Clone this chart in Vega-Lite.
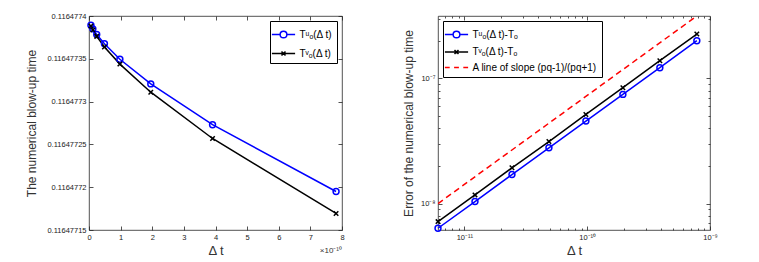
{
  "$schema": "https://vega.github.io/schema/vega-lite/v6.json",
  "autosize": {"type": "pad"},
  "padding": {"left": 25, "top": 11, "right": 5, "bottom": 5},
  "bounds": "flush",
  "spacing": 96,
  "resolve": {"scale": {"color": "independent", "shape": "independent"}, "legend": {"color": "independent", "shape": "independent"}},
  "config": {
    "font": "Liberation Sans",
    "view": {"stroke": "#262626", "strokeWidth": 0.8},
    "axis": {
      "domain": false, "grid": false, "tickSize": -4, "tickWidth": 0.8, "tickColor": "#262626",
      "labelFontSize": 7.5, "labelColor": "#1a1a1a", "labelPadding": 7, "labelFlush": false,
      "titleFontWeight": "normal", "titleColor": "#333", "titleFontSize": 12
    },
    "legend": {
      "title": null, "strokeColor": "#000", "fillColor": "#fff", "padding": 4.5, "cornerRadius": 0,
      "labelFontSize": 10, "labelColor": "#000", "symbolStrokeWidth": 1.5, "symbolSize": 256, "rowPadding": 3, "labelOffset": 7
    }
  },
  "datasets": {
    "left": [
      {"dt": 6.103515625e-12, "T": 0.1164773891, "k": "u", "series": "Tᵘₒ(Δ t)"},
      {"dt": 1.220703125e-11, "T": 0.116477385, "k": "u", "series": "Tᵘₒ(Δ t)"},
      {"dt": 2.44140625e-11, "T": 0.1164773783, "k": "u", "series": "Tᵘₒ(Δ t)"},
      {"dt": 4.8828125e-11, "T": 0.1164773675, "k": "u", "series": "Tᵘₒ(Δ t)"},
      {"dt": 9.765625e-11, "T": 0.1164773495, "k": "u", "series": "Tᵘₒ(Δ t)"},
      {"dt": 1.953125e-10, "T": 0.1164773207, "k": "u", "series": "Tᵘₒ(Δ t)"},
      {"dt": 3.90625e-10, "T": 0.116477273, "k": "u", "series": "Tᵘₒ(Δ t)"},
      {"dt": 7.8125e-10, "T": 0.116477195, "k": "u", "series": "Tᵘₒ(Δ t)"},
      {"dt": 6.103515625e-12, "T": 0.1164773882, "k": "v", "series": "Tᵛₒ(Δ t)"},
      {"dt": 1.220703125e-11, "T": 0.1164773836, "k": "v", "series": "Tᵛₒ(Δ t)"},
      {"dt": 2.44140625e-11, "T": 0.1164773762, "k": "v", "series": "Tᵛₒ(Δ t)"},
      {"dt": 4.8828125e-11, "T": 0.1164773638, "k": "v", "series": "Tᵛₒ(Δ t)"},
      {"dt": 9.765625e-11, "T": 0.1164773438, "k": "v", "series": "Tᵛₒ(Δ t)"},
      {"dt": 1.953125e-10, "T": 0.116477311, "k": "v", "series": "Tᵛₒ(Δ t)"},
      {"dt": 3.90625e-10, "T": 0.1164772569, "k": "v", "series": "Tᵛₒ(Δ t)"},
      {"dt": 7.8125e-10, "T": 0.1164771693, "k": "v", "series": "Tᵛₒ(Δ t)"}
    ],
    "right": [
      {"dt": 6.103515625e-12, "err": 6.35e-9, "k": "u", "series": "Tᵘₒ(Δ t)-Tₒ"},
      {"dt": 1.220703125e-11, "err": 1.038e-8, "k": "u", "series": "Tᵘₒ(Δ t)-Tₒ"},
      {"dt": 2.44140625e-11, "err": 1.706e-8, "k": "u", "series": "Tᵘₒ(Δ t)-Tₒ"},
      {"dt": 4.8828125e-11, "err": 2.79e-8, "k": "u", "series": "Tᵘₒ(Δ t)-Tₒ"},
      {"dt": 9.765625e-11, "err": 4.56e-8, "k": "u", "series": "Tᵘₒ(Δ t)-Tₒ"},
      {"dt": 1.953125e-10, "err": 7.45e-8, "k": "u", "series": "Tᵘₒ(Δ t)-Tₒ"},
      {"dt": 3.90625e-10, "err": 1.217e-7, "k": "u", "series": "Tᵘₒ(Δ t)-Tₒ"},
      {"dt": 7.8125e-10, "err": 2.0e-7, "k": "u", "series": "Tᵘₒ(Δ t)-Tₒ"},
      {"dt": 6.103515625e-12, "err": 7.18e-9, "k": "v", "series": "Tᵛₒ(Δ t)-Tₒ"},
      {"dt": 1.220703125e-11, "err": 1.173e-8, "k": "v", "series": "Tᵛₒ(Δ t)-Tₒ"},
      {"dt": 2.44140625e-11, "err": 1.93e-8, "k": "v", "series": "Tᵛₒ(Δ t)-Tₒ"},
      {"dt": 4.8828125e-11, "err": 3.13e-8, "k": "v", "series": "Tᵛₒ(Δ t)-Tₒ"},
      {"dt": 9.765625e-11, "err": 5.15e-8, "k": "v", "series": "Tᵛₒ(Δ t)-Tₒ"},
      {"dt": 1.953125e-10, "err": 8.42e-8, "k": "v", "series": "Tᵛₒ(Δ t)-Tₒ"},
      {"dt": 3.90625e-10, "err": 1.385e-7, "k": "v", "series": "Tᵛₒ(Δ t)-Tₒ"},
      {"dt": 7.8125e-10, "err": 2.26e-7, "k": "v", "series": "Tᵛₒ(Δ t)-Tₒ"},
      {"dt": 6.103515625e-12, "err": 1.0e-8, "k": "r", "series": "A line of slope (pq-1)/(pq+1)"},
      {"dt": 7.8125e-10, "err": 3.15e-7, "k": "r", "series": "A line of slope (pq-1)/(pq+1)"}
    ],
    "note": [{"dt": 8e-10, "T": 0.11647715, "txt": "×10⁻¹⁰"}]
  },
  "hconcat": [
    {
      "width": 253, "height": 214,
      "data": {"name": "left"},
      "resolve": {"axis": {"x": "independent", "y": "independent"}},
      "layer": [
        {
          "encoding": {
            "x": {"field": "dt", "type": "quantitative", "scale": {"domain": [0, 8e-10], "nice": false, "zero": false},
              "axis": {"orient": "bottom", "values": [0, 1e-10, 2e-10, 3e-10, 4e-10, 5e-10, 6e-10, 7e-10, 8e-10], "labelExpr": "'' + round(datum.value*1e10)", "title": "Δ t", "titleFontSize": 13, "titlePadding": 4}},
            "y": {"field": "T", "type": "quantitative", "scale": {"domain": [0.11647715, 0.1164774], "nice": false, "zero": false},
              "axis": {"orient": "left", "values": [0.11647715, 0.1164772, 0.11647725, 0.1164773, 0.11647735, 0.1164774], "format": ".8~f", "title": "The numerical blow-up time", "titlePadding": 8}}
          },
          "layer": [
            {"transform": [{"filter": "datum.k == 'u'"}], "mark": {"type": "line", "color": "#0000ff", "strokeWidth": 1.5}},
            {"transform": [{"filter": "datum.k == 'v'"}], "mark": {"type": "line", "color": "#000000", "strokeWidth": 1.5}},
            {"transform": [{"filter": "datum.k == 'u'"}], "mark": {"type": "point", "shape": "circle", "filled": false, "color": "#0000ff", "strokeWidth": 1.5, "size": 35, "opacity": 1}},
            {"transform": [{"filter": "datum.k == 'v'"}], "mark": {"type": "point", "shape": "M-1,-1L1,1M-1,1L1,-1", "filled": false, "color": "#000000", "strokeWidth": 1.5, "size": 20, "opacity": 1}},
            {"mark": {"type": "point", "filled": false, "opacity": 0, "size": 256, "strokeWidth": 1.5},
              "encoding": {
                "color": {"field": "series", "type": "nominal", "scale": {"domain": ["Tᵘₒ(Δ t)", "Tᵛₒ(Δ t)"], "range": ["#0000ff", "#000000"]},
                  "legend": {"orient": "top-right", "offset": 5, "encode": {"symbols": {"update": {"opacity": {"value": 1}, "strokeOpacity": {"value": 1}, "size": {"value": 256}}}}}},
                "shape": {"field": "series", "type": "nominal", "scale": {"domain": ["Tᵘₒ(Δ t)", "Tᵛₒ(Δ t)"], "range": ["M-1.45,0H-0.42M0.42,0H1.45M0.42,0A0.42,0.42 0 1,1 -0.42,0A0.42,0.42 0 1,1 0.42,0", "M-1.45,0H1.45M-0.25,-0.25L0.25,0.25M-0.25,0.25L0.25,-0.25"]},
                  "legend": {"orient": "top-right", "offset": 5, "encode": {"symbols": {"update": {"opacity": {"value": 1}, "strokeOpacity": {"value": 1}, "size": {"value": 256}}}}}}
              }},
            {"data": {"name": "note"}, "mark": {"type": "text", "align": "right", "baseline": "middle", "dy": 21, "fontSize": 8, "color": "#333"},
              "encoding": {"text": {"field": "txt"}}}
          ]
        },
        {
          "mark": {"type": "point", "opacity": 0},
          "encoding": {
            "x": {"field": "dt", "type": "quantitative", "axis": {"orient": "top", "values": [0, 1e-10, 2e-10, 3e-10, 4e-10, 5e-10, 6e-10, 7e-10, 8e-10], "labels": false, "title": null}},
            "y": {"field": "T", "type": "quantitative", "axis": {"orient": "right", "values": [0.11647715, 0.1164772, 0.11647725, 0.1164773, 0.11647735, 0.1164774], "labels": false, "title": null}}
          }
        }
      ]
    },
    {
      "width": 272, "height": 214,
      "data": {"name": "right"},
      "resolve": {"axis": {"x": "independent", "y": "independent"}},
      "layer": [
        {
          "encoding": {
            "x": {"field": "dt", "type": "quantitative", "scale": {"type": "log", "domain": [6.103515625e-12, 1e-9], "nice": false},
              "axis": {"orient": "bottom", "values": [7e-12, 8e-12, 9e-12, 1e-11, 2e-11, 3e-11, 4e-11, 5e-11, 6e-11, 7e-11, 8e-11, 9e-11, 1e-10, 2e-10, 3e-10, 4e-10, 5e-10, 6e-10, 7e-10, 8e-10, 9e-10, 1e-9],
                "labelExpr": "datum.value == 1e-11 ? '10⁻¹¹' : datum.value == 1e-10 ? '10⁻¹⁰' : datum.value == 1e-9 ? '10⁻⁹' : ''",
                "tickSize": {"condition": {"test": "datum.value == 1e-11 || datum.value == 1e-10 || datum.value == 1e-9", "value": -4}, "value": -2},
                "title": "Δ t", "titleFontSize": 13, "titlePadding": 4}},
            "y": {"field": "err", "type": "quantitative", "scale": {"type": "log", "domain": [6.15e-9, 3.15e-7], "nice": false},
              "axis": {"orient": "left", "values": [7e-9, 8e-9, 9e-9, 1e-8, 2e-8, 3e-8, 4e-8, 5e-8, 6e-8, 7e-8, 8e-8, 9e-8, 1e-7, 2e-7, 3e-7],
                "labelExpr": "datum.value == 1e-8 ? '10⁻⁸' : datum.value == 1e-7 ? '10⁻⁷' : ''",
                "tickSize": {"condition": {"test": "datum.value == 1e-8 || datum.value == 1e-7", "value": -4}, "value": -2},
                "title": "Error of the numerical blow-up time", "titlePadding": 5}}
          },
          "layer": [
            {"transform": [{"filter": "datum.k == 'r'"}], "mark": {"type": "line", "color": "#ff0000", "strokeWidth": 1.5, "strokeDash": [6, 4], "clip": true}},
            {"transform": [{"filter": "datum.k == 'u'"}], "mark": {"type": "line", "color": "#0000ff", "strokeWidth": 1.5}},
            {"transform": [{"filter": "datum.k == 'v'"}], "mark": {"type": "line", "color": "#000000", "strokeWidth": 1.5}},
            {"transform": [{"filter": "datum.k == 'u'"}], "mark": {"type": "point", "shape": "circle", "filled": false, "color": "#0000ff", "strokeWidth": 1.5, "size": 35, "opacity": 1}},
            {"transform": [{"filter": "datum.k == 'v'"}], "mark": {"type": "point", "shape": "M-1,-1L1,1M-1,1L1,-1", "filled": false, "color": "#000000", "strokeWidth": 1.5, "size": 20, "opacity": 1}},
            {"mark": {"type": "point", "filled": false, "opacity": 0, "size": 256, "strokeWidth": 1.5},
              "encoding": {
                "color": {"field": "series", "type": "nominal", "scale": {"domain": ["Tᵘₒ(Δ t)-Tₒ", "Tᵛₒ(Δ t)-Tₒ", "A line of slope (pq-1)/(pq+1)"], "range": ["#0000ff", "#000000", "#ff0000"]},
                  "legend": {"orient": "top-left", "offset": 5, "rowPadding": 1.5, "encode": {"symbols": {"update": {"opacity": {"value": 1}, "strokeOpacity": {"value": 1}, "size": {"value": 256}}}}}},
                "shape": {"field": "series", "type": "nominal", "scale": {"domain": ["Tᵘₒ(Δ t)-Tₒ", "Tᵛₒ(Δ t)-Tₒ", "A line of slope (pq-1)/(pq+1)"], "range": ["M-1.45,0H-0.42M0.42,0H1.45M0.42,0A0.42,0.42 0 1,1 -0.42,0A0.42,0.42 0 1,1 0.42,0", "M-1.45,0H1.45M-0.25,-0.25L0.25,0.25M-0.25,0.25L0.25,-0.25", "M-1.45,0H-0.85M-0.3,0H0.3M0.85,0H1.45"]},
                  "legend": {"orient": "top-left", "offset": 5, "rowPadding": 1.5, "encode": {"symbols": {"update": {"opacity": {"value": 1}, "strokeOpacity": {"value": 1}, "size": {"value": 256}}}}}}
              }}
          ]
        },
        {
          "mark": {"type": "point", "opacity": 0},
          "encoding": {
            "x": {"field": "dt", "type": "quantitative", "axis": {"orient": "top", "values": [7e-12, 8e-12, 9e-12, 1e-11, 2e-11, 3e-11, 4e-11, 5e-11, 6e-11, 7e-11, 8e-11, 9e-11, 1e-10, 2e-10, 3e-10, 4e-10, 5e-10, 6e-10, 7e-10, 8e-10, 9e-10, 1e-9], "labels": false, "title": null,
              "tickSize": {"condition": {"test": "datum.value == 1e-11 || datum.value == 1e-10 || datum.value == 1e-9", "value": -4}, "value": -2}}},
            "y": {"field": "err", "type": "quantitative", "axis": {"orient": "right", "values": [7e-9, 8e-9, 9e-9, 1e-8, 2e-8, 3e-8, 4e-8, 5e-8, 6e-8, 7e-8, 8e-8, 9e-8, 1e-7, 2e-7, 3e-7], "labels": false, "title": null,
              "tickSize": {"condition": {"test": "datum.value == 1e-8 || datum.value == 1e-7", "value": -4}, "value": -2}}}
          }
        }
      ]
    }
  ]
}
